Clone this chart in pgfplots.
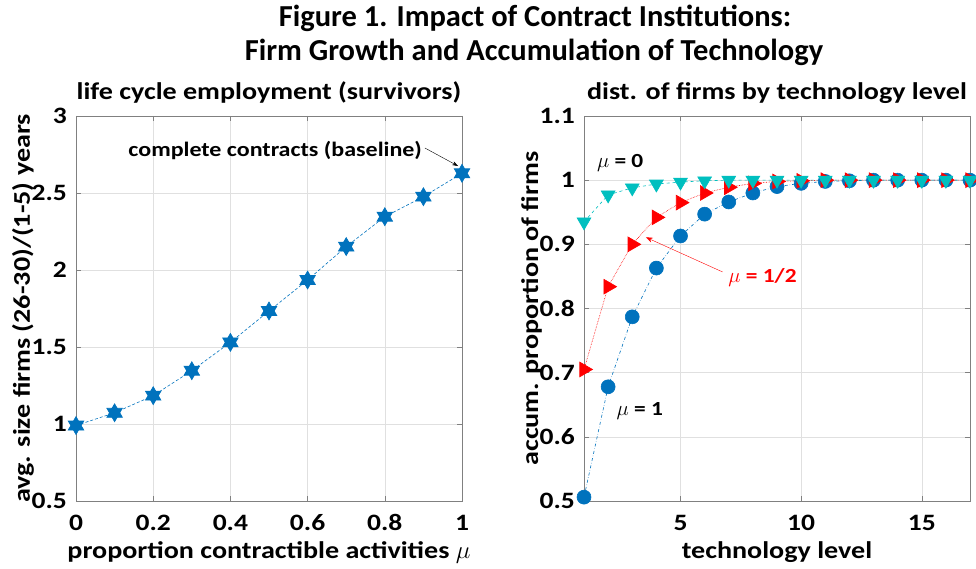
\documentclass[border=0pt]{standalone}
\usepackage{pgfplots}
\pgfplotsset{compat=1.18}
\usepackage{fontspec}
\setmainfont{Carlito}
\newfontfamily\stretchfont{Carlito}[FakeStretch=1.17]
\usetikzlibrary{arrows.meta}
\definecolor{mblue}{RGB}{0,114,189}
\definecolor{mcyan}{RGB}{0,191,191}
\definecolor{axgray}{RGB}{128,128,128}
\pgfdeclareplotmark{hexagram}{%
  \pgfpathmoveto{\pgfqpointpolar{90}{\pgfplotmarksize}}%
  \pgfpathlineto{\pgfqpointpolar{210}{\pgfplotmarksize}}%
  \pgfpathlineto{\pgfqpointpolar{330}{\pgfplotmarksize}}%
  \pgfpathclose
  \pgfpathmoveto{\pgfqpointpolar{270}{\pgfplotmarksize}}%
  \pgfpathlineto{\pgfqpointpolar{30}{\pgfplotmarksize}}%
  \pgfpathlineto{\pgfqpointpolar{150}{\pgfplotmarksize}}%
  \pgfpathclose
  \pgfusepathqfillstroke
}
\newcommand{\fs}[1]{\stretchfont\fontsize{#1}{#1}\selectfont\bfseries}
\pgfplotsset{
  mystyle/.style={
    scale only axis, width=386pt, height=385pt,
    axis line style={axgray}, tick style={axgray, thin},
    tick align=inside, major tick length=5pt,
    grid=major, grid style={black!12},
    /pgf/number format/assume math mode=true,
    ticklabel style={font=\fs{23.5}},
    xticklabel style={anchor=base, inner sep=0pt, yshift=-30pt},
    yticklabel style={anchor=east, inner sep=0pt, xshift=-9pt},
    label style={font=\fs{24}},
    xlabel style={at={(axis description cs:0.5,0)}, anchor=base, inner sep=0pt, yshift=-58pt},
    ylabel style={at={(axis description cs:0,0.5)}, anchor=base, inner sep=0pt, yshift=46pt},
    title style={font=\fs{24}, at={(0.5,1)}, anchor=base, inner sep=0pt, yshift=10pt},
    clip=false,
  }
}
\begin{document}
\begin{tikzpicture}
\path[use as bounding box] (0pt,0pt) rectangle (976pt,569pt);
\node[font=\fontsize{30.5}{34}\selectfont\bfseries, anchor=base, inner sep=0pt] at (535pt,542pt) {Figure 1. Impact of Contract Institutions:};
\node[font=\fontsize{30.5}{34}\selectfont\bfseries, anchor=base, inner sep=0pt] at (534pt,508pt) {Firm Growth and Accumulation of Technology};
\begin{axis}[mystyle, at={(76pt,68pt)}, anchor=south west,
  xmin=0, xmax=1, ymin=0.5, ymax=3,
  xtick={0,0.2,0.4,0.6,0.8,1}, ytick={0.5,1,1.5,2,2.5,3},
  xticklabels={0,0.2,0.4,0.6,0.8,1},
  yticklabels={0.5,1,1.5,2,2.5,3},
  title={life cycle employment (survivors)},
  xlabel={proportion contractible activities $\mu$},
  ylabel={avg. size firms (26-30)/(1-5) years},
]
\addplot[mblue, densely dashed, semithick, mark=hexagram, mark size=9pt, mark options={solid, fill=mblue}]
coordinates {(0,0.99) (0.1,1.073) (0.2,1.184) (0.3,1.346) (0.4,1.530) (0.5,1.734) (0.6,1.935) (0.7,2.152) (0.8,2.346) (0.9,2.476) (1,2.628)};
\node[font=\fs{20.5}] at (axis cs:0.516,2.779) {complete contracts (baseline)};
\draw[-{Stealth[length=6pt,width=4pt]}, black, thin] (axis cs:0.904,2.792) -- (axis cs:0.99,2.675);
\end{axis}
\begin{axis}[mystyle, at={(584pt,68pt)}, anchor=south west,
  xmin=1, xmax=17, ymin=0.5, ymax=1.1,
  xtick={5,10,15}, ytick={0.5,0.6,0.7,0.8,0.9,1,1.1},
  xticklabels={5,10,15},
  yticklabels={0.5,0.6,0.7,0.8,0.9,1,1.1},
  title={dist. of firms by technology level},
  xlabel={technology level},
  ylabel={accum. proportion of firms},
]
\addplot[mblue, dash dot, semithick, mark=*, mark size=7pt, mark options={solid, fill=mblue}]
coordinates {(1,0.506) (2,0.678) (3,0.787) (4,0.863) (5,0.913) (6,0.947) (7,0.966) (8,0.980) (9,0.990) (10,0.995) (11,0.998) (12,0.999) (13,1) (14,1) (15,1) (16,1) (17,1)};
\addplot[red, densely dotted, semithick, mark=triangle*, mark size=8.5pt, mark options={solid, fill=red, rotate=-90}]
coordinates {(1,0.705) (2,0.834) (3,0.900) (4,0.942) (5,0.965) (6,0.980) (7,0.989) (8,0.995) (9,0.998) (10,0.999) (11,1) (12,1) (13,1) (14,1) (15,1) (16,1) (17,1)};
\addplot[mcyan, dashed, semithick, mark=triangle*, mark size=8pt, mark options={solid, fill=mcyan, rotate=180}]
coordinates {(1,0.935) (2,0.977) (3,0.988) (4,0.994) (5,0.997) (6,0.999) (7,1) (8,1) (9,1) (10,1) (11,1) (12,1) (13,1) (14,1) (15,1) (16,1) (17,1)};
\node[font=\fs{20}] at (axis cs:2.5,1.027) {$\mu$ = 0};
\node[font=\fs{20}, text=red] at (axis cs:8.4,0.849) {$\mu$ = 1/2};
\draw[-{Stealth[length=7pt,width=5pt]}, red, thin] (axis cs:6.74,0.857) -- (axis cs:3.56,0.911);
\node[font=\fs{20}] at (axis cs:3.31,0.640) {$\mu$ = 1};
\end{axis}
\end{tikzpicture}
\end{document}
